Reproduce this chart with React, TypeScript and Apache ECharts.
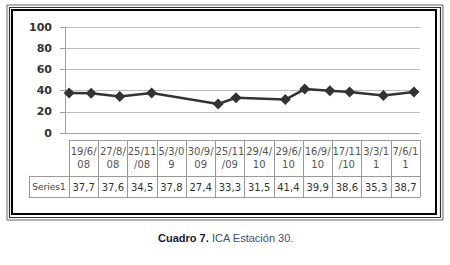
import React, { useEffect, useRef } from "react";
import * as echarts from "echarts";

const dates = ["19/6/08", "27/8/08", "25/11/08", "5/3/09", "30/9/09", "25/11/09", "29/4/10", "29/6/10", "16/9/10", "17/11/10", "3/3/11", "7/6/11"];
const values = [37.7, 37.6, 34.5, 37.8, 27.4, 33.3, 31.5, 41.4, 39.9, 38.6, 35.3, 38.7];
const seriesName = "Series1";
const yMin = 0;
const yMax = 100;
const yStep = 20;
const captionBold = "Cuadro 7.";
const captionRest = "ICA Estación 30.";

const DAY = 86400000;
const toTime = (s: string) => {
  const [d, m, y] = s.split("/").map(Number);
  return new Date(2000 + y, m - 1, d).getTime();
};
const times = dates.map(toTime);
const headerLabels = dates.map((d) => d.slice(0, 5) + "\n" + d.slice(5));
const valueLabels = values.map((v) => v.toFixed(1).replace(".", ","));

const border = "#9a9a9a";
const font = "DejaVu Sans";

export default function App() {
  const ref = useRef<HTMLDivElement>(null);
  useEffect(() => {
    if (!ref.current) return;
    const chart = echarts.init(ref.current, null, { renderer: "svg" });
    const tableY = (gridIndex: number) => ({
      type: "value" as const,
      gridIndex,
      min: 0,
      max: 1,
      interval: 1,
      axisLabel: { show: false },
      axisTick: { show: false },
      axisLine: { show: true, lineStyle: { color: border, width: 1 } },
      splitLine: { show: true, lineStyle: { color: border, width: 1 } },
    });
    const tableX = (gridIndex: number, data: string[], position: "top" | "bottom", extra: any) => ({
      type: "category" as const,
      gridIndex,
      position,
      data,
      boundaryGap: true,
      axisLine: { show: true, lineStyle: { color: border, width: 1 } },
      axisTick: { show: false },
      splitLine: { show: true, interval: 0, lineStyle: { color: border, width: 1 } },
      axisLabel: { inside: true, interval: 0, fontFamily: font, ...extra },
    });
    chart.setOption({
      animation: false,
      backgroundColor: "#ffffff",
      grid: [
        { left: 65, top: 27, width: 355, height: 106 },
        { left: 69, top: 140, width: 351, height: 36 },
        { left: 69, top: 176, width: 351, height: 21 },
        { left: 29, top: 176, width: 40, height: 21 },
      ],
      xAxis: [
        {
          type: "time",
          gridIndex: 0,
          min: times[0] - 13 * DAY,
          max: times[times.length - 1] + 19 * DAY,
          axisLabel: { show: false },
          axisTick: { show: false },
          axisLine: { show: true, lineStyle: { color: "#a0a0a0", width: 1 } },
          splitLine: { show: false },
        },
        tableX(1, headerLabels, "top", { fontSize: 10, lineHeight: 13, color: "#555", margin: 5 }),
        tableX(2, valueLabels, "bottom", { fontSize: 10, color: "#333", margin: 5 }),
        tableX(3, [seriesName], "bottom", { fontSize: 9, color: "#444", margin: 6 }),
      ],
      yAxis: [
        {
          type: "value",
          gridIndex: 0,
          min: yMin,
          max: yMax,
          interval: yStep,
          axisLine: { show: true, lineStyle: { color: "#a0a0a0", width: 1 } },
          axisTick: { show: true, length: 5, lineStyle: { color: "#a0a0a0" } },
          splitLine: { show: true, lineStyle: { color: "#bdbdbd", width: 1 } },
          axisLabel: { fontFamily: font, fontWeight: "bold", fontSize: 11, color: "#333", margin: 13 },
        },
        tableY(1),
        tableY(2),
        tableY(3),
      ],
      series: [
        {
          name: seriesName,
          type: "line",
          xAxisIndex: 0,
          yAxisIndex: 0,
          data: times.map((t, i) => [t, values[i]]),
          symbol: "diamond",
          symbolSize: 11,
          itemStyle: { color: "#333333" },
          lineStyle: { color: "#333333", width: 2.5 },
        },
      ],
      graphic: [
        { type: "rect", shape: { x: 7, y: 5, width: 436, height: 215 }, style: { fill: "none", stroke: "#666", lineWidth: 1 } },
        { type: "rect", shape: { x: 9.5, y: 7.5, width: 431, height: 210 }, style: { fill: "none", stroke: "#333", lineWidth: 1.2 } },
        { type: "rect", shape: { x: 12, y: 10, width: 424, height: 204 }, style: { fill: "none", stroke: "#000", lineWidth: 2 } },
        {
          type: "text",
          x: 158,
          y: 238,
          style: {
            text: `{a|${captionBold}} {b|${captionRest}}`,
            verticalAlign: "middle",
            rich: {
              a: { fontFamily: "Liberation Sans", fontWeight: "bold", fontSize: 11, fill: "#1a1a2e" },
              b: { fontFamily: "Liberation Sans", fontSize: 11, fill: "#3a4f7a" },
            },
          },
        },
      ],
    });
    return () => chart.dispose();
  }, []);
  return <div ref={ref} style={{ position: "fixed", left: 0, top: 0, width: 450, height: 265 }} />;
}
